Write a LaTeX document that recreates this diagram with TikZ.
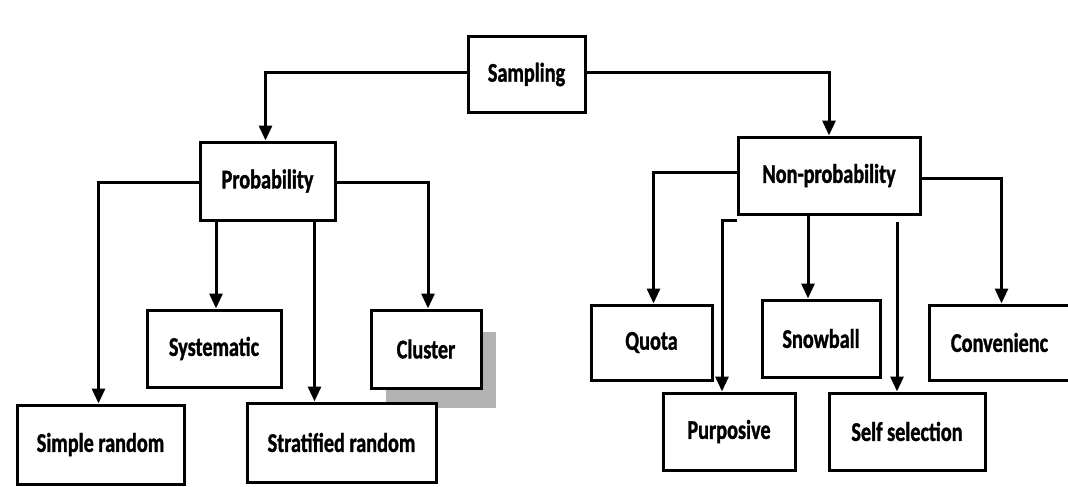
\documentclass[tikz,border=0pt]{standalone}
\usepackage{fontspec}
\setmainfont[FakeStretch=0.75,BoldFeatures={FakeBold=1.2}]{Carlito}
\usetikzlibrary{arrows.meta}
\begin{document}
\begin{tikzpicture}[x=1pt,y=-1pt,
  box/.style={draw=black,line width=3pt,fill=white,inner sep=0pt,
    font=\fontsize{27}{30}\selectfont\bfseries},
  link/.style={line width=3pt,line join=miter},
  arr/.style={link,-{Triangle[width=13pt,length=15pt]}}]
\useasboundingbox (0,0) rectangle (1068,487);
\fill[white] (0,0) rectangle (1068,487);
% a box given by its corners
\newcommand\boxnode[6]{%
  \node[box,minimum width=#4-#2,minimum height=#5-#3]
    (#1) at ({(#2+#4)/2},{(#3+#5)/2}) {#6};}
% top levels
\boxnode{samp}{468}{37}{585}{112}{Sampling}
\boxnode{prob}{200}{142}{335}{220}{Probability}
\boxnode{nonp}{738}{137}{920}{214}{Non-probability}
% probability methods
\fill[black!30] (386,332) rectangle (496,408);
\boxnode{clus}{371}{310}{481}{388}{Cluster}
\boxnode{syst}{147}{310}{281}{387}{Systematic}
\boxnode{simp}{17}{405}{184}{484}{Simple random}
\boxnode{strat}{247}{403}{436}{482}{Stratified random}
% non-probability methods
\boxnode{quota}{591}{305}{712}{380}{Quota}
\boxnode{snow}{762}{300}{880}{377}{Snowball}
\boxnode{conv}{929}{305}{1070}{380}{Convenienc}
\boxnode{purp}{663}{393}{795}{470}{Purposive}
\boxnode{self}{829}{393}{985}{470}{Self selection}
% connectors
\draw[arr] ([yshift=2pt]samp.west) -| ([xshift=-2pt]prob.north);
\draw[arr] ([yshift=2pt]samp.east) -| (nonp.north);
\draw[arr] ([yshift=-1pt]prob.west) -| ([xshift=-2pt]simp.north);
\draw[arr] ([yshift=-1pt]prob.east) -| ([xshift=2pt]clus.north);
\draw[arr] ([xshift=2pt]syst.north |- prob.south) -- ([xshift=2pt]syst.north);
\coordinate (stA) at ([xshift=-22pt]prob.south east);
\draw[arr] (stA) -- (stA |- strat.north);
\draw[arr] ([yshift=3pt]nonp.west) -| ([xshift=2pt]quota.north);
\draw[arr] ([yshift=-5pt]nonp.south west) -| ([xshift=-7pt]purp.north);
\draw[arr] ([xshift=-13pt]snow.north |- nonp.south) -- ([xshift=-13pt]snow.north);
\coordinate (slA) at ([xshift=-10pt,yshift=-6pt]self.north |- nonp.south);
\draw[arr] (slA) -- (slA |- self.north);
\draw[arr] ([yshift=-3pt]nonp.east) -| ([xshift=2pt]conv.north);
\end{tikzpicture}
\end{document}
